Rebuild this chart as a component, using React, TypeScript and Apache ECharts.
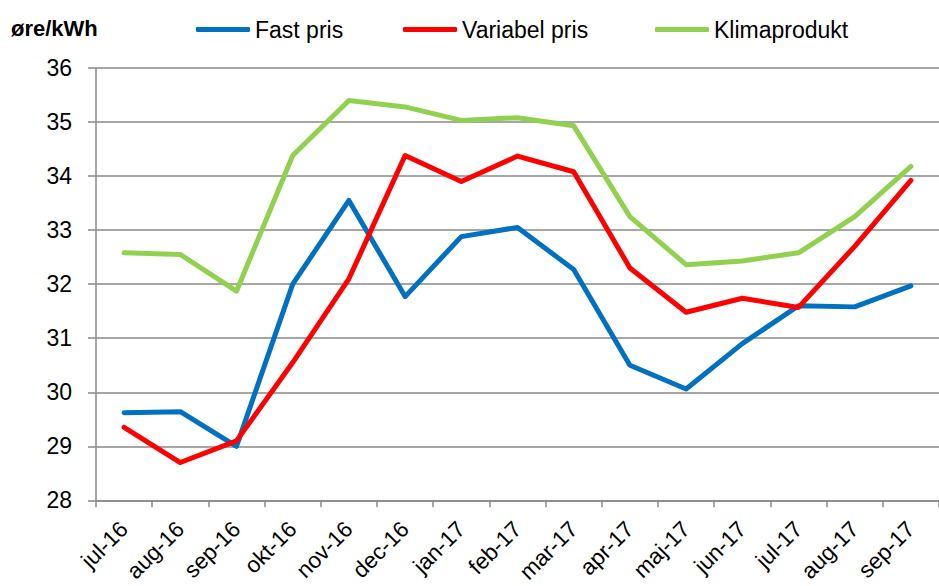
import React, { useEffect, useRef } from "react";
import * as echarts from "echarts";

const categories = ["jul-16", "aug-16", "sep-16", "okt-16", "nov-16", "dec-16", "jan-17", "feb-17", "mar-17", "apr-17", "maj-17", "jun-17", "jul-17", "aug-17", "sep-17"];
const fastPris = [29.62, 29.64, 29.0, 32.0, 33.55, 31.77, 32.88, 33.05, 32.27, 30.5, 30.06, 30.9, 31.6, 31.58, 31.97];
const variabelPris = [29.35, 28.7, 29.1, 30.55, 32.1, 34.38, 33.9, 34.37, 34.08, 32.3, 31.48, 31.74, 31.57, 32.7, 33.92];
const klimaprodukt = [32.58, 32.55, 31.87, 34.38, 35.4, 35.28, 35.03, 35.08, 34.93, 33.25, 32.36, 32.43, 32.58, 33.25, 34.18];

const FONT = "Liberation Sans";
const gray = "#898989";

export default function App() {
  const ref = useRef<HTMLDivElement>(null);
  useEffect(() => {
    if (!ref.current) return;
    const chart = echarts.init(ref.current, null, { renderer: "svg" });
    const legendBase = {
      top: 18,
      padding: 0,
      itemWidth: 54,
      itemHeight: 5,
      itemGap: 4,
      icon: "roundRect",
      textStyle: { fontFamily: FONT, fontSize: 23, color: "#000" },
    };
    const series = [
      { name: "Fast pris", data: fastPris, color: "#0070C0" },
      { name: "Variabel pris", data: variabelPris, color: "#FF0000" },
      { name: "Klimaprodukt", data: klimaprodukt, color: "#92D050" },
    ];
    chart.setOption({
      animation: false,
      backgroundColor: "#fff",
      title: {
        text: "øre/kWh",
        left: 11,
        top: 17,
        padding: 0,
        textStyle: { fontFamily: FONT, fontSize: 22, fontWeight: "bold", color: "#000" },
      },
      legend: [
        { ...legendBase, left: 196, data: ["Fast pris"] },
        { ...legendBase, left: 403, data: ["Variabel pris"] },
        { ...legendBase, left: 655, data: ["Klimaprodukt"] },
      ],
      grid: { left: 96, top: 68, width: 853, height: 434, containLabel: false },
      xAxis: {
        type: "category",
        data: categories,
        boundaryGap: true,
        axisLine: { lineStyle: { color: gray, width: 1.5 } },
        axisTick: { show: true, length: 7, alignWithLabel: false, lineStyle: { color: gray, width: 1.5 } },
        axisLabel: { rotate: 45, margin: 25, fontFamily: FONT, fontSize: 22.5, color: "#000", interval: 0 },
      },
      yAxis: {
        type: "value",
        min: 28,
        max: 36,
        interval: 1,
        axisLine: { show: true, lineStyle: { color: gray, width: 1.5 } },
        axisTick: { show: true, length: 8, lineStyle: { color: gray, width: 1.5 } },
        axisLabel: { margin: 24, fontFamily: FONT, fontSize: 23, color: "#000" },
        splitLine: { show: true, lineStyle: { color: gray, width: 1.5 } },
      },
      series: series.map((s) => ({
        type: "line",
        name: s.name,
        data: s.data,
        showSymbol: false,
        symbol: "none",
        color: s.color,
        lineStyle: { width: 5, color: s.color, cap: "round", join: "round" },
      })),
    });
    return () => chart.dispose();
  }, []);
  return <div ref={ref} style={{ position: "fixed", left: 0, top: 0, width: 939, height: 586 }} />;
}
